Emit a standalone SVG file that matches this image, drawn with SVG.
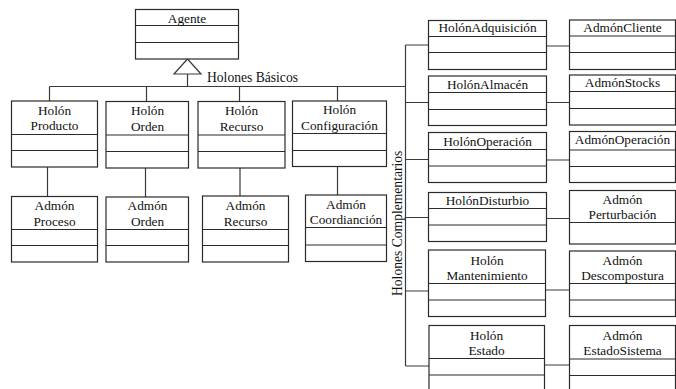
<svg xmlns="http://www.w3.org/2000/svg" width="676" height="389" viewBox="0 0 676 389">
<style>
.b{fill:#fff;stroke:#2a2a2a;stroke-width:1.2}
.d{stroke:#2a2a2a;stroke-width:1.2;fill:none}
.c{stroke:#3a3a3a;stroke-width:1.2;fill:none}
text{font-family:"Liberation Serif","Times New Roman",serif;font-size:13.3px;fill:#111;text-anchor:middle}
.g{font-size:13.6px;text-anchor:start}
</style>
<rect width="676" height="389" fill="#fff"/>
<g id="connectors">
<polygon points="187.5,59 174,74 201,74" class="c" fill="#fff"/>
<path class="c" d="M187.5 74V86.5M49.5 86.5H405.5M49.5 86.5V101M146.5 86.5V101.5M239.5 86.5V101.5M337.5 86.5V101"/>
<path class="c" d="M47.5 167V196.5M145.5 168V197M240 168V196M337.5 166.5V195"/>
<path class="c" d="M405.5 45V366M405.5 45H428.5M405.5 102.5H428.5M405.5 159.5H428.5M405.5 217.5H428.5M405.5 291H428.5M405.5 366H429"/>
<path class="c" d="M546.5 46H569.5M546.5 102.5H569.5M546.5 160H569.5M546.5 218.5H569.5M545.5 290H569.5M544.5 365H569.5"/>
</g>
<text class="g" x="207" y="82">Holones Básicos</text>
<text class="g" x="0" y="0" transform="translate(401.5,296) rotate(-90)">Holones Complementarios</text>
<g id="agente">
<rect class="b" x="135.5" y="9.5" width="103" height="49.5"/>
<path class="d" d="M135.5 25.5H238.5M135.5 42.5H238.5"/>
<text x="187" y="22.5">Agente</text>
</g>
<g id="holon-producto">
<rect class="b" x="11.5" y="101" width="86" height="66"/>
<path class="d" d="M11.5 134.5H97.5M11.5 150.5H97.5"/>
<text x="54.5" y="114.5">Holón</text><text x="54.5" y="130">Producto</text>
</g>
<g id="holon-orden">
<rect class="b" x="106" y="101.5" width="82.5" height="66.5"/>
<path class="d" d="M106 135H188.5M106 151.5H188.5"/>
<text x="147.5" y="115">Holón</text><text x="147.5" y="130.5">Orden</text>
</g>
<g id="holon-recurso">
<rect class="b" x="198" y="101.5" width="87" height="66.5"/>
<path class="d" d="M198 135H285M198 151.5H285"/>
<text x="241.5" y="115">Holón</text><text x="241.5" y="130.5">Recurso</text>
</g>
<g id="holon-configuracion">
<rect class="b" x="292.5" y="101" width="94" height="65.5"/>
<path class="d" d="M292.5 133.5H386.5M292.5 150.5H386.5"/>
<text x="339.5" y="113.5">Holón</text><text x="339.5" y="129.5">Configuración</text>
</g>
<g id="admon-proceso">
<rect class="b" x="11.5" y="196.5" width="86" height="65.5"/>
<path class="d" d="M11.5 229.5H97.5M11.5 245.5H97.5"/>
<text x="54.5" y="210">Admón</text><text x="54.5" y="225.5">Proceso</text>
</g>
<g id="admon-orden">
<rect class="b" x="106" y="197" width="82.5" height="65"/>
<path class="d" d="M106 229.5H188.5M106 245.5H188.5"/>
<text x="147.5" y="210">Admón</text><text x="147.5" y="225.5">Orden</text>
</g>
<g id="admon-recurso">
<rect class="b" x="202.5" y="196" width="86" height="66"/>
<path class="d" d="M202.5 229.5H288.5M202.5 245.5H288.5"/>
<text x="245.5" y="210">Admón</text><text x="245.5" y="225.5">Recurso</text>
</g>
<g id="admon-coordiancion">
<rect class="b" x="305.5" y="195" width="81" height="66.5"/>
<path class="d" d="M305.5 227.5H386.5M305.5 245H386.5"/>
<text x="346" y="209">Admón</text><text x="346" y="224">Coordianción</text>
</g>
<g id="holon-adquisicion">
<rect class="b" x="428.5" y="20.5" width="118" height="49"/>
<path class="d" d="M428.5 36.5H546.5M428.5 52.5H546.5"/>
<text x="487.5" y="32">HolónAdquisición</text>
</g>
<g id="holon-almacen">
<rect class="b" x="428.5" y="76" width="118" height="49.5"/>
<path class="d" d="M428.5 92.5H546.5M428.5 109.5H546.5"/>
<text x="487.5" y="89">HolónAlmacén</text>
</g>
<g id="holon-operacion">
<rect class="b" x="428.5" y="132.5" width="118" height="50"/>
<path class="d" d="M428.5 149.5H546.5M428.5 166H546.5"/>
<text x="487.5" y="146">HolónOperación</text>
</g>
<g id="holon-disturbio">
<rect class="b" x="428.5" y="192.5" width="118" height="49"/>
<path class="d" d="M428.5 208.5H546.5M428.5 225H546.5"/>
<text x="487.5" y="204.5">HolónDisturbio</text>
</g>
<g id="holon-mantenimiento">
<rect class="b" x="428.5" y="250" width="117" height="66.5"/>
<path class="d" d="M428.5 283.5H545.5M428.5 300H545.5"/>
<text x="487" y="264.5">Holón</text><text x="487" y="280">Mantenimiento</text>
</g>
<g id="holon-estado">
<rect class="b" x="429" y="325.5" width="115.5" height="70"/>
<path class="d" d="M429 358.5H544.5M429 375H544.5"/>
<text x="486.5" y="340">Holón</text><text x="486.5" y="355">Estado</text>
</g>
<g id="admon-cliente">
<rect class="b" x="569.5" y="20" width="106" height="49.5"/>
<path class="d" d="M569.5 36H675.5M569.5 52.5H675.5"/>
<text x="622.5" y="31.5">AdmónCliente</text>
</g>
<g id="admon-stocks">
<rect class="b" x="569.5" y="75" width="106" height="50"/>
<path class="d" d="M569.5 91.5H675.5M569.5 108.5H675.5"/>
<text x="622.5" y="87">AdmónStocks</text>
</g>
<g id="admon-operacion">
<rect class="b" x="569.5" y="131.5" width="106" height="51"/>
<path class="d" d="M569.5 150H675.5M569.5 166.5H675.5"/>
<text x="622.5" y="143.5">AdmónOperación</text>
</g>
<g id="admon-perturbacion">
<rect class="b" x="569.5" y="190.5" width="106" height="53.5"/>
<path class="d" d="M569.5 222.5H675.5"/>
<text x="622.5" y="203.5">Admón</text><text x="622.5" y="218.5">Perturbación</text>
</g>
<g id="admon-descompostura">
<rect class="b" x="569.5" y="251" width="106" height="65.5"/>
<path class="d" d="M569.5 283.5H675.5M569.5 300H675.5"/>
<text x="622.5" y="264.5">Admón</text><text x="622.5" y="280">Descompostura</text>
</g>
<g id="admon-estadosistema">
<rect class="b" x="569.5" y="325.5" width="106" height="70"/>
<path class="d" d="M569.5 359H675.5M569.5 375.5H675.5"/>
<text x="622.5" y="340">Admón</text><text x="622.5" y="355">EstadoSistema</text>
</g>
</svg>
